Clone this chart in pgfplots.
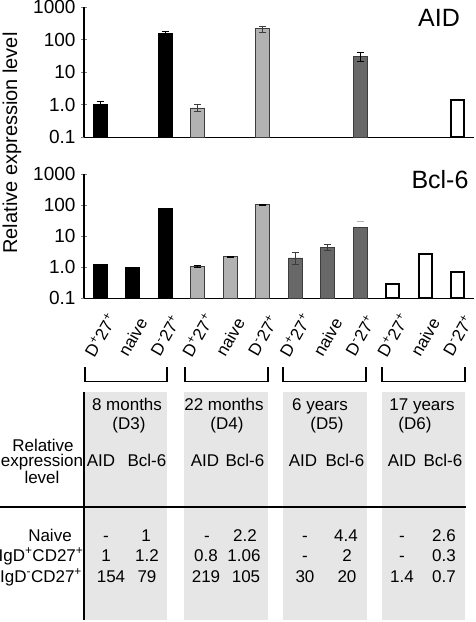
\documentclass[border=0pt]{standalone}
\usepackage{fontspec}
\setmainfont{Liberation Sans}
\usepackage{pgfplots}
\pgfplotsset{compat=1.18}
\definecolor{lgray}{RGB}{178,178,178}
\definecolor{dgray}{RGB}{104,104,104}
\definecolor{boxgray}{RGB}{230,230,230}
\definecolor{edgegray}{RGB}{60,60,60}
\newcommand\Dp{D\textsuperscript{+}27\textsuperscript{+}}
\newcommand\Dm{D\textsuperscript{-}27\textsuperscript{+}}
\begin{document}
\begin{tikzpicture}
\useasboundingbox (0,0) rectangle (475pt,-622pt);
% ---------- AID ----------
\begin{semilogyaxis}[scale only axis, width=390pt, height=130pt,
    at={(84pt,-137.3pt)}, anchor=south west,
    xmin=-0.5, xmax=11.5, ymin=0.1, ymax=1000, log origin=infty,
    axis x line*=bottom, axis y line*=left,
    axis line style={line width=1.2pt},
    ytick={0.1,1,10,100,1000}, yticklabels={0.1,1.0,10,100,1000},
    yminorticks=false, xtick=\empty,
    yticklabel style={font=\fontsize{19}{21}\selectfont, xshift=-2pt},
    tick align=center, major tick length=6pt,
    ytick style={line width=1pt}, clip=false]
\addplot[ybar, bar width=14pt, bar shift=0pt, line width=0.8pt, fill=black, draw=black,
  error bars/.cd, y dir=both, y explicit,
  error bar style={black, line width=0.9pt},
  error mark options={rotate=90, mark size=3.5pt, black, line width=0.9pt}]
  table[x=x,y=y,y error plus=ep,y error minus=em] {
x y ep em
0 1 0.23 0.2
2 154 30 24
};
\addplot[ybar, bar width=14pt, bar shift=0pt, line width=0.8pt, fill=lgray, draw=edgegray,
  error bars/.cd, y dir=both, y explicit,
  error bar style={edgegray, line width=0.9pt},
  error mark options={rotate=90, mark size=3.5pt, edgegray, line width=0.9pt}]
  table[x=x,y=y,y error plus=ep,y error minus=em] {
x y ep em
3 0.8 0.25 0.19
5 219 43 50
};
\addplot[ybar, bar width=14pt, bar shift=0pt, line width=0.8pt, fill=dgray, draw=edgegray,
  error bars/.cd, y dir=both, y explicit,
  error bar style={black, line width=0.9pt},
  error mark options={rotate=90, mark size=3.5pt, black, line width=0.9pt}]
  table[x=x,y=y,y error plus=ep,y error minus=em] {
x y ep em
8 30 10 9
};
\addplot[ybar, bar width=13pt, bar shift=0pt, fill=white, draw=black, line width=2pt]
  table[x=x,y=y] {
x y
11 1.4
};
\end{semilogyaxis}
% ---------- Bcl-6 ----------
\begin{semilogyaxis}[scale only axis, width=390pt, height=124pt,
    at={(84pt,-298.3pt)}, anchor=south west,
    xmin=-0.5, xmax=11.5, ymin=0.1, ymax=1000, log origin=infty,
    axis x line*=bottom, axis y line*=left,
    axis line style={line width=1.2pt},
    ytick={0.1,1,10,100,1000}, yticklabels={0.1,1.0,10,100,1000},
    yminorticks=false, xtick=\empty,
    yticklabel style={font=\fontsize{19}{21}\selectfont, xshift=-2pt},
    tick align=center, major tick length=6pt,
    ytick style={line width=1pt}, clip=false]
\addplot[ybar, bar width=14pt, bar shift=0pt, line width=0.8pt, fill=black, draw=black]
  table[x=x,y=y] {
x y
0 1.2
1 1.0
2 79
};
\addplot[ybar, bar width=14pt, bar shift=0pt, line width=0.8pt, fill=lgray, draw=edgegray,
  error bars/.cd, y dir=both, y explicit,
  error bar style={black, line width=0.9pt},
  error mark options={rotate=90, mark size=3.5pt, black, line width=1.2pt}]
  table[x=x,y=y,y error plus=ep,y error minus=em] {
x y ep em
3 1.06 0.08 0.08
4 2.2 0.05 0.05
5 105 2 2
};
\addplot[ybar, bar width=14pt, bar shift=0pt, line width=0.8pt, fill=dgray, draw=edgegray,
  error bars/.cd, y dir=both, y explicit,
  error bar style={edgegray, line width=0.9pt},
  error mark options={rotate=90, mark size=3.5pt, edgegray, line width=0.9pt}]
  table[x=x,y=y,y error plus=ep,y error minus=em] {
x y ep em
6 2 1.0 0.8
7 4.4 1.1 0.9
};
\addplot[ybar, bar width=14pt, bar shift=0pt, line width=0.8pt, fill=dgray, draw=edgegray,
  error bars/.cd, y dir=plus, y explicit,
  error bar style={white, line width=0.5pt},
  error mark options={rotate=90, mark size=3.5pt, lgray, line width=1.2pt}]
  table[x=x,y=y,y error plus=ep] {
x y ep
8 20 9.5
};
\addplot[ybar, bar width=13pt, bar shift=0pt, fill=white, draw=black, line width=2pt]
  table[x=x,y=y] {
x y
9 0.3
10 2.6
11 0.7
};
% category labels (rotated)
\node[rotate=60, font=\fontsize{17}{19}\selectfont, inner sep=0pt] at ([yshift=-37pt]axis cs:0,0.1) {\Dp};
\node[rotate=60, font=\fontsize{17}{19}\selectfont, inner sep=0pt] at ([yshift=-39pt]axis cs:1,0.1) {naive};
\node[rotate=60, font=\fontsize{17}{19}\selectfont, inner sep=0pt] at ([yshift=-37pt]axis cs:2,0.1) {\Dm};
\node[rotate=60, font=\fontsize{17}{19}\selectfont, inner sep=0pt] at ([yshift=-37pt]axis cs:3,0.1) {\Dp};
\node[rotate=60, font=\fontsize{17}{19}\selectfont, inner sep=0pt] at ([yshift=-39pt]axis cs:4,0.1) {naive};
\node[rotate=60, font=\fontsize{17}{19}\selectfont, inner sep=0pt] at ([yshift=-37pt]axis cs:5,0.1) {\Dm};
\node[rotate=60, font=\fontsize{17}{19}\selectfont, inner sep=0pt] at ([yshift=-37pt]axis cs:6,0.1) {\Dp};
\node[rotate=60, font=\fontsize{17}{19}\selectfont, inner sep=0pt] at ([yshift=-39pt]axis cs:7,0.1) {naive};
\node[rotate=60, font=\fontsize{17}{19}\selectfont, inner sep=0pt] at ([yshift=-37pt]axis cs:8,0.1) {\Dm};
\node[rotate=60, font=\fontsize{17}{19}\selectfont, inner sep=0pt] at ([yshift=-37pt]axis cs:9,0.1) {\Dp};
\node[rotate=60, font=\fontsize{17}{19}\selectfont, inner sep=0pt] at ([yshift=-39pt]axis cs:10,0.1) {naive};
\node[rotate=60, font=\fontsize{17}{19}\selectfont, inner sep=0pt] at ([yshift=-37pt]axis cs:11,0.1) {\Dm};
\end{semilogyaxis}
% ---------- labels ----------
\node[rotate=90, font=\fontsize{20}{24}\selectfont] at (12pt,-143pt) {Relative expression level};
\node[font=\fontsize{25}{30}\selectfont] at (439pt,-18pt) {AID};
\node[font=\fontsize{25}{30}\selectfont] at (440pt,-180pt) {Bcl-6};
% ---------- brackets ----------
\foreach \a/\b in {85/167,185/268,283/366,382/465}{
  \draw[line width=1.6pt] (\a pt,-367pt) -- (\a pt,-381.5pt) -- (\b pt,-381.5pt) -- (\b pt,-367pt);
}
% ---------- table ----------
\foreach \a/\b in {84/167,184/268,283/367,382/465}{
  \fill[boxgray] (\a pt,-392pt) rectangle (\b pt,-620pt);
}
\draw[line width=1.2pt] (84pt,-392pt) -- (84pt,-620pt);
\draw[line width=1.2pt] (0pt,-507pt) -- (466pt,-507pt);
\begin{scope}[every node/.style={font=\fontsize{17}{20}\selectfont, inner sep=0pt, anchor=base}]
\node at (127pt,-410pt) {8 months};
\node at (129pt,-429pt) {(D3)};
\node at (224pt,-410pt) {22 months};
\node at (227pt,-429pt) {(D4)};
\node at (320pt,-410pt) {6 years};
\node at (327pt,-429pt) {(D5)};
\node at (422pt,-410pt) {17 years};
\node at (415pt,-429pt) {(D6)};
\node at (43pt,-451pt) {Relative};
\node at (42pt,-466pt) {expression};
\node at (42pt,-483pt) {level};
\foreach \xa/\xb in {101/147,205/245,303/345,402/443}{
  \node at (\xa pt,-466pt) {AID};
  \node at (\xb pt,-466pt) {Bcl-6};
}
\node at (50pt,-541pt) {Naive};
\node at (41pt,-561pt) {IgD\textsuperscript{+}CD27\textsuperscript{+}};
\node at (41pt,-582pt) {IgD\textsuperscript{-}CD27\textsuperscript{+}};
% values
\node at (106pt,-541pt) {-};  \node at (146pt,-541pt) {1};
\node at (106pt,-561pt) {1};  \node at (147pt,-561pt) {1.2};
\node at (111pt,-582pt) {154}; \node at (147pt,-582pt) {79};
\node at (207pt,-541pt) {-};  \node at (245pt,-541pt) {2.2};
\node at (206pt,-561pt) {0.8}; \node at (244pt,-561pt) {1.06};
\node at (206pt,-582pt) {219}; \node at (246pt,-582pt) {105};
\node at (305pt,-541pt) {-};  \node at (346pt,-541pt) {4.4};
\node at (305pt,-561pt) {-};  \node at (347pt,-561pt) {2};
\node at (305pt,-582pt) {30}; \node at (347pt,-582pt) {20};
\node at (402pt,-541pt) {-};  \node at (444pt,-541pt) {2.6};
\node at (402pt,-561pt) {-};  \node at (444pt,-561pt) {0.3};
\node at (402pt,-582pt) {1.4}; \node at (444pt,-582pt) {0.7};
\end{scope}
\end{tikzpicture}
\end{document}
